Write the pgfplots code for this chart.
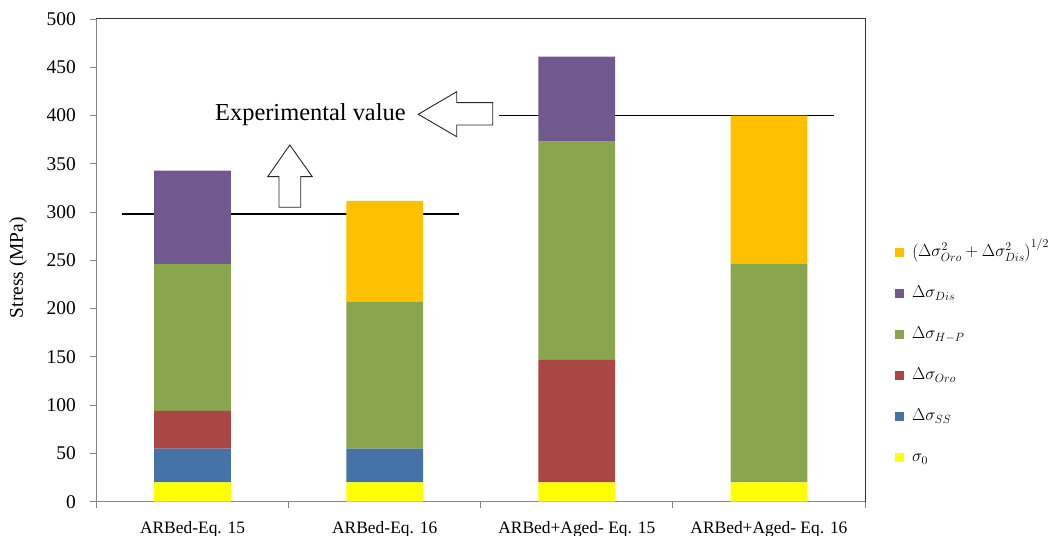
\documentclass[border=0pt]{standalone}
\usepackage{fontspec}
\setmainfont{Liberation Serif}
\usepackage{pgfplots}
\pgfplotsset{compat=1.18}

\definecolor{cYel}{HTML}{FFFF00}
\definecolor{cBlue}{HTML}{4572A7}
\definecolor{cRed}{HTML}{AA4643}
\definecolor{cGreen}{HTML}{89A54E}
\definecolor{cPurple}{HTML}{71588F}
\definecolor{cOrange}{HTML}{FFC000}
\definecolor{axgray}{HTML}{868686}

\begin{document}
\begin{tikzpicture}
\path[use as bounding box] (-96.5bp,-34.3bp) rectangle (960.5bp,501.7bp);
\begin{axis}[
  at={(0,0)}, anchor=south west,
  scale only axis, width=768.5bp, height=482.7bp,
  clip=false,
  ybar stacked, bar width=0.4,
  xmin=-0.5, xmax=3.5, ymin=0, ymax=500,
  xtick={-0.5,0.5,1.5,2.5,3.5},
  xticklabels={ARBed-Eq. 15, ARBed-Eq. 16, ARBed+Aged- Eq. 15, ARBed+Aged- Eq. 16, {}},
  xticklabel style={font=\fontsize{17.5}{17.5}\selectfont, anchor=base, xshift=96.06bp, yshift=-25.5bp},
  ytick={0,50,...,500},
  yticklabel style={font=\fontsize{19.5}{19.5}\selectfont, anchor=east, inner sep=0pt, xshift=-14.5bp},
  /pgf/number format/assume math mode=true,
  tick align=outside, tick pos=left, major tick length=6bp,
  tick style={axgray, line width=0.8bp},
  axis line style={draw=none},
  ylabel={Stress (MPa)},
  ylabel style={font=\fontsize{19.5}{19.5}\selectfont, at={(axis description cs:-0.102,0.485)}, anchor=center},
  reverse legend,
  legend cell align=left,
  legend image code/.code={\fill[#1] (0bp,-4.5bp) rectangle (9bp,4.5bp);},
  legend style={draw=none, fill=none, at={(axis description cs:1.035,0.303)}, anchor=west,
    font=\fontsize{17}{17}\selectfont, row sep=21bp,
    nodes={inner sep=0pt, text height=14bp, text depth=6bp},
    /tikz/every odd column/.append style={column sep=8bp}},
]
% stacked contributions to the yield stress (MPa)
\addplot[fill=cYel, draw=none] coordinates {(0,20) (1,20) (2,20) (3,20)};
\addplot[fill=cBlue, draw=none] coordinates {(0,35) (1,35) (2,0) (3,0)};
\addplot[fill=cRed, draw=none] coordinates {(0,39) (1,0) (2,127) (3,0)};
\addplot[fill=cGreen, draw=none] coordinates {(0,152) (1,152) (2,226) (3,226)};
\addplot[fill=cPurple, draw=none] coordinates {(0,97) (1,0) (2,88) (3,0)};
\addplot[fill=cOrange, draw=none] coordinates {(0,0) (1,104.5) (2,0) (3,154)};
\legend{$\sigma_{0}$, $\Delta\sigma_{SS}$, $\Delta\sigma_{Oro}$, $\Delta\sigma_{H-P}$, $\Delta\sigma_{Dis}$,
  $\left(\Delta\sigma_{Oro}^{2}+\Delta\sigma_{Dis}^{2}\right)^{1/2}$}

% plot-area frame
\draw[axgray, line width=0.8bp] (rel axis cs:0,1) -- (rel axis cs:0,0) -- (rel axis cs:1,0);
\draw[black!80, line width=1bp] (rel axis cs:0,1) -- (rel axis cs:1,1) -- (rel axis cs:1,0);

% experimental yield stresses
\draw[black, line width=1.1bp] (axis cs:-0.369,298) -- (axis cs:1.387,298);
\draw[black, line width=1.1bp] (axis cs:1.596,400) -- (axis cs:3.340,400);
\end{axis}

% annotation: block arrows and caption
\draw[black!85, line width=0.9bp, fill=white]
  (182.5bp,294.4bp) -- (182.5bp,325bp) -- (171.2bp,325bp) -- (193.3bp,356.7bp)
  -- (215.8bp,325bp) -- (204.2bp,325bp) -- (204.2bp,294.4bp) -- cycle;
\draw[black!85, line width=0.9bp, fill=white]
  (321.8bp,387.4bp) -- (360.2bp,410bp) -- (360.2bp,399bp) -- (396.2bp,399bp)
  -- (396.2bp,376.7bp) -- (360.2bp,376.7bp) -- (360.2bp,365bp) -- cycle;
\node[anchor=base west, inner sep=0pt, font=\fontsize{24.5}{24.5}\selectfont]
  at (118.5bp,380.7bp) {Experimental value};
\end{tikzpicture}
\end{document}
